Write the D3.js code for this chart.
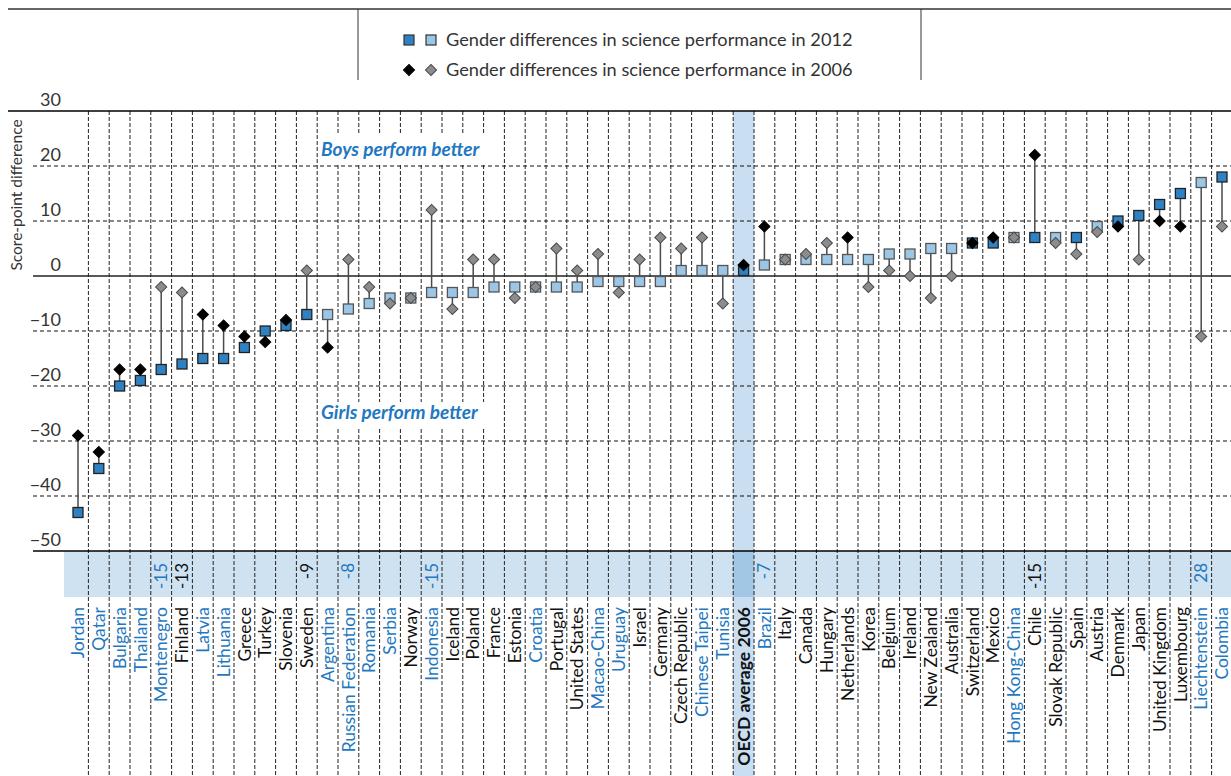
<!DOCTYPE html>
<html>
<head>
<meta charset="utf-8">
<script src="https://cdn.jsdelivr.net/npm/d3@7"></script>
<style>
  body { margin: 0; background: #fff; }
  svg { display: block; font-family: Lato, "Open Sans", sans-serif; }
</style>
</head>
<body>
<div id="chart"></div>
<script>
// Data

const countries = ["Jordan", "Qatar", "Bulgaria", "Thailand", "Montenegro", "Finland", "Latvia", "Lithuania",
  "Greece", "Turkey", "Slovenia", "Sweden", "Argentina", "Russian Federation", "Romania", "Serbia", "Norway",
  "Indonesia", "Iceland", "Poland", "France", "Estonia", "Croatia", "Portugal", "United States", "Macao-China",
  "Uruguay", "Israel", "Germany", "Czech Republic", "Chinese Taipei", "Tunisia", "OECD average 2006", "Brazil",
  "Italy", "Canada", "Hungary", "Netherlands", "Korea", "Belgium", "Ireland", "New Zealand", "Australia",
  "Switzerland", "Mexico", "Hong Kong-China", "Chile", "Slovak Republic", "Spain", "Austria", "Denmark", "Japan",
  "United Kingdom", "Luxembourg", "Liechtenstein", "Colombia"];

const partners = ["Jordan", "Qatar", "Bulgaria", "Thailand", "Montenegro", "Latvia", "Lithuania", "Argentina",
  "Russian Federation", "Romania", "Serbia", "Indonesia", "Croatia", "Macao-China", "Uruguay", "Chinese Taipei",
  "Tunisia", "Brazil", "Hong Kong-China", "Liechtenstein", "Colombia"];

const diff2012 = [-43, -35, -20, -19, -17, -16, -15, -15, -13, -10, -9, -7, -7, -6, -5, -4, -4, -3, -3, -3, -2, -2,
  -2, -2, -2, -1, -1, -1, -1, 1, 1, 1, 1, 2, 3, 3, 3, 3, 3, 4, 4, 5, 5, 6, 6, 7, 7, 7, 7, 9, 10, 11, 13, 15, 17, 18];

const diff2006 = [-29, -32, -17, -17, -2, -3, -7, -9, -11, -12, -8, 1, -13, 3, -2, -5, -4, 12, -6, 3, 3, -4, -2, 5,
  1, 4, -3, 3, 7, 5, 7, -5, 2, 9, 3, 4, 6, 7, -2, 1, 0, -4, 0, 6, 7, 7, 22, 6, 4, 8, 9, 3, 10, 9, -11, 9];

// 1 = statistically significant (dark marker)
const sig2012 = [1, 1, 1, 1, 1, 1, 1, 1, 1, 1, 1, 1, 0, 0, 0, 0, 0, 0, 0, 0, 0, 0, 0, 0, 0, 0, 0, 0, 0, 0, 0, 0, 1,
  0, 0, 0, 0, 0, 0, 0, 0, 0, 0, 1, 1, 0, 1, 0, 1, 0, 1, 1, 1, 1, 0, 1];
const sig2006 = [1, 1, 1, 1, 0, 0, 1, 1, 1, 1, 1, 0, 1, 0, 0, 0, 0, 0, 0, 0, 0, 0, 0, 0, 0, 0, 0, 0, 0, 0, 0, 0, 1,
  1, 0, 0, 0, 1, 0, 0, 0, 0, 0, 1, 1, 0, 1, 0, 0, 0, 1, 0, 1, 1, 0, 0];

// significant changes 2006-2012 shown in the band
const changeCountries = ["Montenegro", "Finland", "Sweden", "Russian Federation", "Indonesia", "Brazil", "Chile", "Liechtenstein"];
const changeValues = [-15, -13, -9, -8, -15, -7, -15, 28];

const yTicks = [30, 20, 10, 0, -10, -20, -30, -40, -50];

// Layout
const W = 1231, H = 776;
const plotLeft = 33, plotTop = 111, plotBottom = 551;
const bandBottom = 597;
const blueText = "#1f78c0";
const dark = "#2e82c3", light = "#9bc6e6";
const bandFill = "#cfe2f1";

const x = d3.scaleBand().domain(countries).range([67.6, 67.6 + 56 * 20.8]);
const y = d3.scaleLinear().domain([-50, 30]).range([plotBottom, plotTop]);

const rows = countries.map((c, i) => ({
  c, v12: diff2012[i], v06: diff2006[i], s12: sig2012[i], s06: sig2006[i]
}));

const svg = d3.select("#chart").append("svg")
  .attr("width", W).attr("height", H);

// OECD average highlight column
svg.append("rect")
  .attr("x", x("OECD average 2006")).attr("y", plotTop)
  .attr("width", x.bandwidth()).attr("height", H - plotTop)
  .attr("fill", "#c9def0");

// Band for changes
svg.append("rect")
  .attr("x", 64).attr("y", plotBottom)
  .attr("width", W - 64).attr("height", bandBottom - plotBottom)
  .attr("fill", bandFill);
svg.append("rect")
  .attr("x", x("OECD average 2006")).attr("y", plotBottom)
  .attr("width", x.bandwidth()).attr("height", bandBottom - plotBottom)
  .attr("fill", "#a2c7e4");

// Horizontal dashed gridlines
svg.selectAll(".hgrid")
  .data(yTicks.filter(d => d !== 30 && d !== 0 && d !== -50))
  .join("line")
  .attr("class", "hgrid")
  .attr("x1", plotLeft).attr("x2", W)
  .attr("y1", d => y(d)).attr("y2", d => y(d))
  .attr("stroke", "#111").attr("stroke-width", 1)
  .attr("stroke-dasharray", "4,3");

// Vertical dashed gridlines at column boundaries
svg.selectAll(".vgrid")
  .data(countries.slice(1))
  .join("line")
  .attr("class", "vgrid")
  .attr("x1", d => x(d)).attr("x2", d => x(d))
  .attr("y1", plotTop).attr("y2", H)
  .attr("stroke", "#222").attr("stroke-width", 1)
  .attr("stroke-dasharray", "4,2");

// Annotation boxes
svg.append("rect").attr("x", 318).attr("y", 133).attr("width", 180).attr("height", 31).attr("fill", "#fff");
svg.append("rect").attr("x", 318).attr("y", 402).attr("width", 180).attr("height", 26).attr("fill", "#fff");

svg.append("text")
  .attr("x", 321).attr("y", 156)
  .attr("fill", blueText)
  .style("font-size", "19px").style("font-weight", "bold").style("font-style", "italic")
  .text("Boys perform better");
svg.append("text")
  .attr("x", 321).attr("y", 419)
  .attr("fill", blueText)
  .style("font-size", "19px").style("font-weight", "bold").style("font-style", "italic")
  .text("Girls perform better");

// Axis lines
svg.append("line").attr("x1", 8).attr("x2", W).attr("y1", y(30)).attr("y2", y(30))
  .attr("stroke", "#000").attr("stroke-width", 1.5);
svg.append("line").attr("x1", plotLeft).attr("x2", W).attr("y1", y(0)).attr("y2", y(0))
  .attr("stroke", "#222").attr("stroke-width", 1.5);
svg.append("line").attr("x1", plotLeft).attr("x2", W).attr("y1", y(-50)).attr("y2", y(-50))
  .attr("stroke", "#000").attr("stroke-width", 1.5);

// Y axis labels
svg.append("g")
  .attr("transform", "translate(61,0)")
  .call(d3.axisLeft(y).tickValues(yTicks).tickSize(0).tickPadding(0).tickFormat(d3.format("d")))
  .call(g => g.select(".domain").remove())
  .selectAll("text")
  .attr("dy", "-0.28em")
  .attr("fill", "#333")
  .style("font-size", "18px")
  .style("font-family", "Lato, sans-serif");

svg.append("text")
  .attr("transform", `translate(22,195) rotate(-90)`)
  .attr("text-anchor", "middle")
  .attr("fill", "#333")
  .style("font-size", "15.5px")
  .text("Score-point difference");

// Connectors
const cx = d => x(d.c) + x.bandwidth() / 2;
svg.selectAll(".conn")
  .data(rows)
  .join("line")
  .attr("class", "conn")
  .attr("x1", cx).attr("x2", cx)
  .attr("y1", d => y(d.v12)).attr("y2", d => y(d.v06))
  .attr("stroke", "#4a4a4a").attr("stroke-width", 1.5);

// 2012 squares
const sq = 10;
svg.selectAll(".sq")
  .data(rows)
  .join("rect")
  .attr("class", "sq")
  .attr("x", d => cx(d) - sq / 2).attr("y", d => y(d.v12) - sq / 2)
  .attr("width", sq).attr("height", sq)
  .attr("fill", d => d.s12 ? dark : light)
  .attr("stroke", d => d.s12 ? "#222" : "#555").attr("stroke-width", 1.3);

// 2006 diamonds
const diamond = d3.symbol().type(d3.symbolSquare).size(62);
svg.selectAll(".dm")
  .data(rows)
  .join("path")
  .attr("class", "dm")
  .attr("d", diamond)
  .attr("transform", d => `translate(${cx(d)},${y(d.v06)}) rotate(45)`)
  .attr("fill", d => d.s06 ? "#000" : "#8c8c8c")
  .attr("stroke", d => d.s06 ? "#000" : "#4a4a4a").attr("stroke-width", 1);

// Change values in band
svg.selectAll(".chg")
  .data(changeCountries)
  .join("text")
  .attr("class", "chg")
  .attr("transform", d => `translate(${x(d) + x.bandwidth() / 2},563) rotate(-90)`)
  .attr("dy", "0.35em")
  .attr("text-anchor", "end")
  .attr("fill", d => partners.includes(d) ? blueText : "#111")
  .style("font-size", "17px")
  .text((d, i) => changeValues[i]);

// Country labels
svg.selectAll(".lab")
  .data(countries)
  .join("text")
  .attr("class", "lab")
  .attr("transform", d => `translate(${x(d) + x.bandwidth() / 2},607) rotate(-90)`)
  .attr("dy", "0.35em")
  .attr("text-anchor", "end")
  .attr("fill", d => partners.includes(d) ? blueText : "#111")
  .style("font-size", "17.5px")
  .style("font-weight", d => d === "OECD average 2006" ? "bold" : "normal")
  .text(d => d);

// Legend
svg.append("line").attr("x1", 8).attr("x2", W).attr("y1", 9).attr("y2", 9)
  .attr("stroke", "#666").attr("stroke-width", 2);
svg.append("line").attr("x1", 358).attr("x2", 358).attr("y1", 9).attr("y2", 80)
  .attr("stroke", "#333").attr("stroke-width", 1);
svg.append("line").attr("x1", 921).attr("x2", 921).attr("y1", 9).attr("y2", 80)
  .attr("stroke", "#333").attr("stroke-width", 1);

const legend = svg.append("g");
[[409, dark], [431, light]].forEach(([lx, f]) => {
  legend.append("rect").attr("x", lx - 5).attr("y", 35).attr("width", 10).attr("height", 10)
    .attr("fill", f).attr("stroke", "#333").attr("stroke-width", 1.2);
});
[[409, "#000", "#000"], [431, "#8c8c8c", "#4a4a4a"]].forEach(([lx, f, s]) => {
  legend.append("path").attr("d", diamond)
    .attr("transform", `translate(${lx},70) rotate(45)`)
    .attr("fill", f).attr("stroke", s);
});
legend.append("text").attr("x", 446).attr("y", 46).attr("fill", "#333").style("font-size", "18.2px")
  .text("Gender differences in science performance in 2012");
legend.append("text").attr("x", 446).attr("y", 76).attr("fill", "#333").style("font-size", "18.2px")
  .text("Gender differences in science performance in 2006");
</script>
</body>
</html>
